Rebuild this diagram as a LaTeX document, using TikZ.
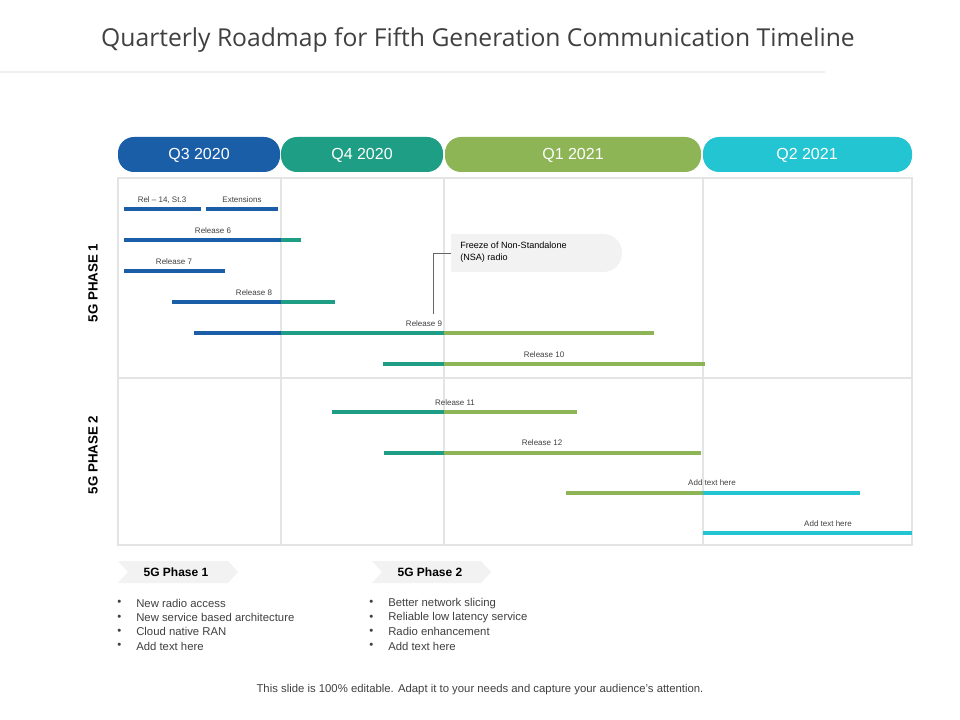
\documentclass[tikz,border=0pt]{standalone}
\usepackage{fontspec}
\setmainfont{Liberation Sans}
\newfontfamily\titlefont{Open Sans}
\definecolor{cblue}{HTML}{1A5EA8}
\definecolor{cteal}{HTML}{1E9E84}
\definecolor{cgreen}{HTML}{8DB556}
\definecolor{ccyan}{HTML}{22C5D1}
\definecolor{gridc}{HTML}{E4E4E4}
\definecolor{txt}{HTML}{404040}
\begin{document}
\begin{tikzpicture}[x=0.75pt,y=-0.75pt,
  hdr/.style={rounded corners=12pt,draw=none},
  hdrtxt/.style={text=white,font=\fontsize{12}{14}\selectfont},
  bar/.style={line width=3pt},
  lbl/.style={font=\fontsize{6}{7}\selectfont,text=txt,inner sep=1pt},
  bul/.style={font=\fontsize{8.5}{10}\selectfont,text=txt,anchor=west,inner sep=0pt},
  chev/.style={fill=gray!10,draw=none}]
\fill[white] (0,0) rectangle (960,720);
\useasboundingbox (0,0) rectangle (960,720);
\node[font=\titlefont\fontsize{18.5}{22}\selectfont,text=txt] (title) at (478,40) {Quarterly Roadmap for Fifth Generation Communication Timeline};
\draw[gray!12,line width=0.8pt] (0,72) -- (825,72);
% grid
\draw[gridc,line width=0.8pt] (118,178) rectangle (912,545);
\draw[gridc,line width=0.8pt] (118,378) -- (912,378);
\foreach \x in {281,444,703} \draw[gridc,line width=0.8pt] (\x,178) -- (\x,545);
% headers
\fill[cblue,hdr] (118,137) rectangle (280,172);
\fill[cteal,hdr] (281,137) rectangle (443,172);
\fill[cgreen,hdr] (445,137) rectangle (701,172);
\fill[ccyan,hdr] (703,137) rectangle (912,172);
\node[hdrtxt] (q3) at (199,155) {Q3 2020};
\node[hdrtxt] (q4) at (362,155) {Q4 2020};
\node[hdrtxt] (q1) at (573,155) {Q1 2021};
\node[hdrtxt] (q2) at (807,155) {Q2 2021};
% phase labels
\node[rotate=90,font=\bfseries\fontsize{10}{12}\selectfont] (p1) at (93,283) {5G PHASE 1};
\node[rotate=90,font=\bfseries\fontsize{10}{12}\selectfont] (p2) at (93,455) {5G PHASE 2};
% bars
\draw[bar,cblue] (124,209) -- (201,209);
\node[lbl] (r14) at (162,200) {Rel -- 14, St.3};
\draw[bar,cblue] (206,209) -- (278,209);
\node[lbl] (ext) at (242,200) {Extensions};
\draw[bar,cblue] (124,240) -- (281,240); \draw[bar,cteal] (281,240) -- (301,240);
\node[lbl] (r6) at (213,231) {Release 6};
\draw[bar,cblue] (124,271) -- (225,271);
\node[lbl] (r7) at (174,262) {Release 7};
\draw[bar,cblue] (172,302) -- (281,302); \draw[bar,cteal] (281,302) -- (335,302);
\node[lbl] (r8) at (254,293) {Release 8};
\draw[bar,cblue] (194,333) -- (281,333); \draw[bar,cteal] (281,333) -- (444,333); \draw[bar,cgreen] (444,333) -- (654,333);
\node[lbl] (r9) at (424,324) {Release 9};
\draw[bar,cteal] (383,364) -- (444,364); \draw[bar,cgreen] (444,364) -- (705,364);
\node[lbl] (r10) at (544,355) {Release 10};
\draw[bar,cteal] (332,412) -- (444,412); \draw[bar,cgreen] (444,412) -- (577,412);
\node[lbl] (r11) at (455,403) {Release 11};
\draw[bar,cteal] (384,453) -- (444,453); \draw[bar,cgreen] (444,453) -- (701,453);
\node[lbl] (r12) at (542,443) {Release 12};
\draw[bar,cgreen] (566,493) -- (703,493); \draw[bar,ccyan] (703,493) -- (860,493);
\node[lbl] (a1) at (712,483) {Add text here};
\draw[bar,ccyan] (703,533) -- (912,533);
\node[lbl] (a2) at (828,524) {Add text here};
% callout
\fill[gray!10] (451,234) {[rounded corners=14pt] -- (622,234) -- (622,272)} -- (451,272) -- cycle;
\node[font=\fontsize{6.8}{8.5}\selectfont,align=left,anchor=north west,inner sep=0pt] (frz) at (460,242) {Freeze of Non-Standalone\\(NSA) radio};
\coordinate (cA) at (433,314);
\coordinate (cB) at (433,253);
\coordinate (cC) at (451,253);
\draw[gray!80!black,line width=0.5pt] (cA) -- (cB) -- (cC);
% chevrons
\fill[chev] (118,561) -- (228,561) -- (238,572) -- (228,583) -- (118,583) -- (128,572) -- cycle;
\node[font=\bfseries\fontsize{9}{11}\selectfont] (c1) at (176,572) {5G Phase 1};
\fill[chev] (372,561) -- (481,561) -- (491,572) -- (481,583) -- (372,583) -- (382,572) -- cycle;
\node[font=\bfseries\fontsize{9}{11}\selectfont] (c2) at (430,572) {5G Phase 2};
\foreach \t [count=\i] in {New radio access,New service based architecture,Cloud native RAN,Add text here}{
  \node[bul] at (117,589+14.3*\i) {\textbullet};
  \node[bul] at (136,589+14.3*\i) {\t};}
\foreach \t [count=\i] in {Better network slicing,Reliable low latency service,Radio enhancement,Add text here}{
  \node[bul] at (369,589+14.3*\i) {\textbullet};
  \node[bul] at (388,589+14.3*\i) {\t};}
\node[font=\fontsize{8.5}{10}\selectfont,text=txt] (foot) at (480,690) {This slide is 100\% editable. Adapt it to your needs and capture your audience's attention.};
\end{tikzpicture}
\end{document}
